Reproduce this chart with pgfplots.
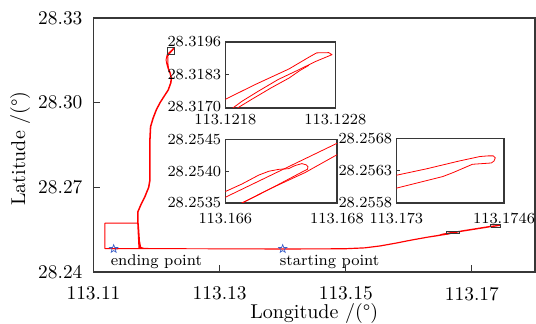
\documentclass[border=0pt]{standalone}
\usepackage{fontspec}
\usepackage{pgfplots}
\usepackage{pgfplotstable}
\pgfplotsset{compat=1.18}

\definecolor{starblue}{RGB}{60,95,200}
\definecolor{framegray}{RGB}{55,55,55}

% Coordinates are shifted by whole degrees with plain dimen arithmetic,
% so the very narrow inset windows keep their precision.
\makeatletter
\newdimen\coorddim
\pgfplotsset{
  x coord trafo/.code={\pgfmathfloatparsenumber{#1}\pgfmathfloattofixed{\pgfmathresult}%
    \coorddim=\pgfmathresult pt\advance\coorddim by -113pt\edef\pgfmathresult{\pgf@sys@tonumber\coorddim}},
  y coord trafo/.code={\pgfmathfloatparsenumber{#1}\pgfmathfloattofixed{\pgfmathresult}%
    \coorddim=\pgfmathresult pt\advance\coorddim by -28pt\edef\pgfmathresult{\pgf@sys@tonumber\coorddim}},
}
\makeatother

% outlined five-pointed star
\pgfdeclareplotmark{ostar}{%
  \pgfpathmoveto{\pgfpointpolar{90}{\pgfplotmarksize}}%
  \pgfpathlineto{\pgfpointpolar{126}{0.42\pgfplotmarksize}}%
  \pgfpathlineto{\pgfpointpolar{162}{\pgfplotmarksize}}%
  \pgfpathlineto{\pgfpointpolar{198}{0.42\pgfplotmarksize}}%
  \pgfpathlineto{\pgfpointpolar{234}{\pgfplotmarksize}}%
  \pgfpathlineto{\pgfpointpolar{270}{0.42\pgfplotmarksize}}%
  \pgfpathlineto{\pgfpointpolar{306}{\pgfplotmarksize}}%
  \pgfpathlineto{\pgfpointpolar{342}{0.42\pgfplotmarksize}}%
  \pgfpathlineto{\pgfpointpolar{18}{\pgfplotmarksize}}%
  \pgfpathlineto{\pgfpointpolar{54}{0.42\pgfplotmarksize}}%
  \pgfpathclose
  \pgfusepathqstroke
}

% main trajectory (longitude, latitude)
\pgfplotstableread{
lon lat
113.1400 28.2482
113.1300 28.2482
113.1200 28.2483
113.1174 28.2483
113.1172 28.2510
113.1171 28.2545
113.1170 28.2573
113.1170 28.2614
113.1175 28.2640
113.1181 28.2667
113.1187 28.2700
113.1189 28.2726
113.1189 28.2800
113.1189 28.2870
113.1190 28.2915
113.1194 28.2945
113.1199 28.2974
113.1205 28.3000
113.1211 28.3021
113.1218 28.3045
113.1222 28.3070
113.1223 28.3086
113.1221 28.3105
113.1218 28.3122
113.1216 28.3139
113.1215 28.3152
113.12160 28.31620
113.12171 28.31713
113.12180 28.31733
113.12207 28.31792
113.12238 28.31855
113.12256 28.31900
113.12264 28.31917
113.12274 28.31918
113.12277 28.31910
113.12262 28.31884
113.12247 28.31851
113.12228 28.31812
113.12210 28.31766
113.12195 28.31726
113.12185 28.31697
113.12177 28.31671
113.1218 28.3155
113.1218 28.3139
113.1219 28.3122
113.1222 28.3105
113.1224 28.3086
113.1223 28.3070
113.1219 28.3045
113.1212 28.3021
113.1206 28.3000
113.1200 28.2974
113.1195 28.2945
113.1191 28.2915
113.1190 28.2870
113.1190 28.2800
113.1190 28.2726
113.1188 28.2700
113.1182 28.2667
113.1176 28.2640
113.1171 28.2614
113.1171 28.2573
113.1172 28.2545
113.1173 28.2510
113.1175 28.2487
113.1180 28.2484
113.1192 28.2483
113.1300 28.2482
113.1400 28.2482
113.1450 28.2482
113.1500 28.2483
113.1530 28.2486
113.1555 28.2493
113.1580 28.2503
113.1605 28.2514
113.1630 28.2524
113.1645 28.25295
113.1655 28.25338
113.1660 28.25359
113.1680 28.25444
113.1700 28.25516
113.1730 28.25622
113.17345 28.25634
113.17394 28.25645
113.17424 28.25651
113.17436 28.25653
113.17444 28.25653
113.17447 28.25650
113.17446 28.25646
113.17441 28.25643
113.17414 28.25640
113.17384 28.25627
113.17369 28.25621
113.1730 28.25602
113.1700 28.25498
113.1680 28.25426
113.16743 28.25399
113.16684 28.25374
113.16630 28.25350
113.1660 28.25337
113.1645 28.2528
113.1630 28.2523
113.1605 28.2513
113.1580 28.2502
113.1555 28.2492
113.1530 28.2485
113.1500 28.2482
113.1400 28.2481
113.1300 28.2482
113.1200 28.2483
113.1150 28.2483
113.1118 28.2483
113.1118 28.2573
113.1170 28.2573
113.1172 28.2483
113.1132 28.2482
}\route

% short turn near 113.167 E
\pgfplotstableread{
lon lat
113.1650 28.25325
113.16600 28.25368
113.16630 28.25380
113.16660 28.25394
113.16678 28.25400
113.16696 28.25403
113.16713 28.25405
113.16725 28.25409
113.16737 28.25412
113.16745 28.25411
113.16748 28.25407
113.16746 28.25403
113.16740 28.25400
113.16684 28.25374
113.16630 28.25350
113.1655 28.25320
}\turnA

% second pass near the northern end
\pgfplotstableread{
lon lat
113.12182 28.31658
113.12191 28.31697
113.12204 28.31733
113.12222 28.31779
113.12238 28.31818
113.12248 28.31848
113.12256 28.31868
}\turnB

\pgfplotsset{
  route/.style={red, line width=0.45pt, line join=round},
  inset/.style={
    scale only axis, anchor=south west,
    axis background/.style={fill=white},
    axis line style={framegray, line width=0.6pt},
    tick pos=left, tick align=inside, major tick length=2pt,
    tick style={framegray, line width=0.5pt},
    scaled ticks=false,
    tick label style={font=\fontsize{7.7}{9}\selectfont, inner sep=1pt},
    xticklabel style={yshift=-1.8pt},
    yticklabel style={xshift=-0.9pt},
  },
}

\begin{document}
\begin{tikzpicture}
\begin{axis}[
  name=main, at={(0,0)}, anchor=south west,
  scale only axis, width=220.75pt, height=127pt,
  xmin=113.11, xmax=113.18, ymin=28.24, ymax=28.33,
  xtick={113.11,113.13,113.15,113.17},
  xticklabels={113.11,113.13,113.15,113.17},
  ytick={28.24,28.27,28.30,28.33},
  yticklabels={28.24,28.27,28.30,28.33},
  scaled ticks=false,
  tick pos=left, tick align=inside, major tick length=3.5pt,
  tick style={framegray, line width=0.5pt},
  axis line style={framegray, line width=0.65pt},
  tick label style={font=\fontsize{9.7}{11}\selectfont},
  xticklabel style={yshift=-4pt},
  yticklabel style={xshift=-2pt},
  xlabel={Longitude /(°)},
  ylabel={Latitude /(°)},
  label style={font=\fontsize{10}{12}\selectfont},
  xlabel style={at={(axis description cs:0.5,-0.163)}, anchor=center},
  ylabel style={at={(axis description cs:-0.1660,0.486)}, anchor=center},
]
\addplot[route] table[x=lon, y=lat] {\route};
\addplot[route] table[x=lon, y=lat] {\turnA};
\addplot[route] table[x=lon, y=lat] {\turnB};
% zoom windows
\addplot[framegray, line width=0.5pt] coordinates {(113.1218,28.3170) (113.1228,28.3170) (113.1228,28.3196) (113.1218,28.3196) (113.1218,28.3170)};
\addplot[framegray, line width=0.5pt] coordinates {(113.166,28.2535) (113.168,28.2535) (113.168,28.2545) (113.166,28.2545) (113.166,28.2535)};
\addplot[framegray, line width=0.5pt] coordinates {(113.173,28.2558) (113.1746,28.2558) (113.1746,28.2568) (113.173,28.2568) (113.173,28.2558)};
% start and end of the run
\addplot[only marks, mark=ostar, mark size=2.1pt,
  mark options={draw=starblue, line width=0.35pt},
  point meta=explicit symbolic, nodes near coords,
  every node near coord/.append style={anchor=base west, inner sep=0pt,
    xshift=-1.6pt, yshift=-8.3pt, text=black,
    font=\fontsize{7.8}{9}\selectfont}]
  coordinates {(113.1132,28.2482) [ending point] (113.1400,28.2482) [starting point]};
\end{axis}

\begin{axis}[inset, at={(65.9pt,82pt)}, width=55pt, height=33pt,
  xmin=113.1218, xmax=113.1228, ymin=28.3170, ymax=28.3196,
  xtick={113.1218,113.1228}, xticklabels={113.1218,113.1228},
  ytick={28.3170,28.3183,28.3196},
  yticklabels={\raisebox{2pt}{28.3170},28.3183,28.3196}]
\addplot[route, line width=0.4pt] table[x=lon, y=lat] {\route};
\addplot[route, line width=0.4pt] table[x=lon, y=lat] {\turnB};
\end{axis}

\begin{axis}[inset, at={(65.9pt,34.5pt)}, width=55.85pt, height=31.75pt,
  xmin=113.166, xmax=113.168, ymin=28.2535, ymax=28.2545,
  xtick={113.166,113.168}, xticklabels={113.166,113.168},
  xticklabel style={yshift=-2.2pt},
  ytick={28.2535,28.2540,28.2545},
  yticklabels={28.2535,28.2540,28.2545}]
\addplot[route, line width=0.4pt] table[x=lon, y=lat] {\route};
\addplot[route, line width=0.4pt] table[x=lon, y=lat] {\turnA};
\end{axis}

\begin{axis}[inset, at={(151.4pt,34.5pt)}, width=53.85pt, height=32.25pt,
  xmin=113.173, xmax=113.1746, ymin=28.2558, ymax=28.2568,
  xtick={113.173,113.1746}, xticklabels={113.173,113.1746},
  xticklabel style={yshift=-2.2pt},
  ytick={28.2558,28.2563,28.2568},
  yticklabels={28.2558,28.2563,\raisebox{-0.8pt}{28.2568}}]
\addplot[route, line width=0.4pt] table[x=lon, y=lat] {\route};
\end{axis}

\pgfresetboundingbox
\path[use as bounding box] (-46.75pt,-26pt) rectangle (221.25pt,136pt);
\end{tikzpicture}
\end{document}
